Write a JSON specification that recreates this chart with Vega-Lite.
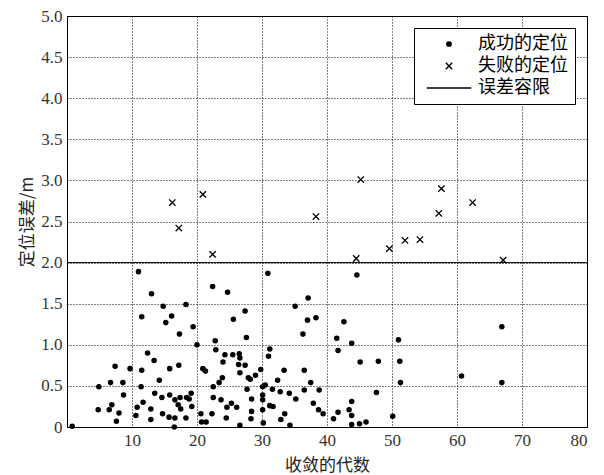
{
  "$schema": "https://vega.github.io/schema/vega-lite/v6.json",
  "width": 520,
  "height": 411,
  "autosize": {"type": "none"},
  "padding": {"left": 67, "top": 16, "right": 17, "bottom": 48},
  "background": "white",
  "config": {
    "view": {"stroke": "black", "strokeWidth": 1},
    "axis": {
      "domainColor": "black",
      "ticks": false,
      "grid": true,
      "gridColor": "black",
      "gridDash": [1, 2],
      "gridWidth": 1,
      "gridOpacity": 1,
      "labelFont": "Liberation Serif",
      "labelFontSize": 17,
      "labelColor": "#333",
      "titleFont": "Noto Sans CJK SC",
      "titleFontSize": 17,
      "titleFontWeight": "normal",
      "titleColor": "#222"
    },
    "legend": {
      "labelFont": "Noto Sans CJK SC",
      "labelFontSize": 18,
      "labelColor": "black",
      "strokeColor": "black",
      "fillColor": "white"
    }
  },
  "layer": [
    {
      "data": {"values": [{"err": 2.0}]},
      "mark": {"type": "rule", "color": "black", "strokeWidth": 1},
      "encoding": {
        "y": {"field": "err", "type": "quantitative", "scale": {"domain": [0, 5]}}
      }
    },
    {
      "data": {
        "values": [
          {"gen": 0.8, "err": 0.01, "type": "成功的定位"},
          {"gen": 11.0, "err": 1.89, "type": "成功的定位"},
          {"gen": 13.0, "err": 1.62, "type": "成功的定位"},
          {"gen": 11.5, "err": 1.34, "type": "成功的定位"},
          {"gen": 14.8, "err": 1.47, "type": "成功的定位"},
          {"gen": 18.3, "err": 1.49, "type": "成功的定位"},
          {"gen": 15.2, "err": 1.27, "type": "成功的定位"},
          {"gen": 16.1, "err": 1.35, "type": "成功的定位"},
          {"gen": 17.3, "err": 1.13, "type": "成功的定位"},
          {"gen": 19.4, "err": 1.22, "type": "成功的定位"},
          {"gen": 22.4, "err": 1.71, "type": "成功的定位"},
          {"gen": 24.7, "err": 1.64, "type": "成功的定位"},
          {"gen": 25.6, "err": 1.31, "type": "成功的定位"},
          {"gen": 27.4, "err": 1.41, "type": "成功的定位"},
          {"gen": 27.6, "err": 1.09, "type": "成功的定位"},
          {"gen": 30.9, "err": 1.87, "type": "成功的定位"},
          {"gen": 35.1, "err": 1.47, "type": "成功的定位"},
          {"gen": 37.1, "err": 1.57, "type": "成功的定位"},
          {"gen": 37.0, "err": 1.30, "type": "成功的定位"},
          {"gen": 38.3, "err": 1.33, "type": "成功的定位"},
          {"gen": 36.3, "err": 1.13, "type": "成功的定位"},
          {"gen": 22.8, "err": 1.05, "type": "成功的定位"},
          {"gen": 20.0, "err": 1.00, "type": "成功的定位"},
          {"gen": 44.6, "err": 1.85, "type": "成功的定位"},
          {"gen": 42.6, "err": 1.28, "type": "成功的定位"},
          {"gen": 41.5, "err": 1.08, "type": "成功的定位"},
          {"gen": 43.8, "err": 1.02, "type": "成功的定位"},
          {"gen": 51.0, "err": 1.06, "type": "成功的定位"},
          {"gen": 66.9, "err": 1.22, "type": "成功的定位"},
          {"gen": 22.9, "err": 0.94, "type": "成功的定位"},
          {"gen": 24.3, "err": 0.88, "type": "成功的定位"},
          {"gen": 25.5, "err": 0.88, "type": "成功的定位"},
          {"gen": 26.5, "err": 0.89, "type": "成功的定位"},
          {"gen": 26.6, "err": 0.84, "type": "成功的定位"},
          {"gen": 31.2, "err": 0.95, "type": "成功的定位"},
          {"gen": 31.0, "err": 0.86, "type": "成功的定位"},
          {"gen": 24.0, "err": 0.79, "type": "成功的定位"},
          {"gen": 20.9, "err": 0.71, "type": "成功的定位"},
          {"gen": 21.3, "err": 0.68, "type": "成功的定位"},
          {"gen": 26.4, "err": 0.76, "type": "成功的定位"},
          {"gen": 27.4, "err": 0.75, "type": "成功的定位"},
          {"gen": 26.6, "err": 0.66, "type": "成功的定位"},
          {"gen": 27.9, "err": 0.60, "type": "成功的定位"},
          {"gen": 28.2, "err": 0.58, "type": "成功的定位"},
          {"gen": 29.0, "err": 0.63, "type": "成功的定位"},
          {"gen": 29.8, "err": 0.70, "type": "成功的定位"},
          {"gen": 23.9, "err": 0.60, "type": "成功的定位"},
          {"gen": 23.4, "err": 0.54, "type": "成功的定位"},
          {"gen": 22.5, "err": 0.49, "type": "成功的定位"},
          {"gen": 33.4, "err": 0.69, "type": "成功的定位"},
          {"gen": 36.5, "err": 0.69, "type": "成功的定位"},
          {"gen": 32.4, "err": 0.57, "type": "成功的定位"},
          {"gen": 37.5, "err": 0.54, "type": "成功的定位"},
          {"gen": 30.5, "err": 0.51, "type": "成功的定位"},
          {"gen": 30.1, "err": 0.49, "type": "成功的定位"},
          {"gen": 12.4, "err": 0.90, "type": "成功的定位"},
          {"gen": 13.4, "err": 0.81, "type": "成功的定位"},
          {"gen": 7.4, "err": 0.74, "type": "成功的定位"},
          {"gen": 9.7, "err": 0.71, "type": "成功的定位"},
          {"gen": 11.5, "err": 0.69, "type": "成功的定位"},
          {"gen": 15.8, "err": 0.71, "type": "成功的定位"},
          {"gen": 17.2, "err": 0.75, "type": "成功的定位"},
          {"gen": 14.2, "err": 0.57, "type": "成功的定位"},
          {"gen": 4.9, "err": 0.49, "type": "成功的定位"},
          {"gen": 6.7, "err": 0.54, "type": "成功的定位"},
          {"gen": 8.6, "err": 0.54, "type": "成功的定位"},
          {"gen": 11.4, "err": 0.49, "type": "成功的定位"},
          {"gen": 41.7, "err": 0.93, "type": "成功的定位"},
          {"gen": 45.1, "err": 0.79, "type": "成功的定位"},
          {"gen": 47.9, "err": 0.80, "type": "成功的定位"},
          {"gen": 51.2, "err": 0.80, "type": "成功的定位"},
          {"gen": 51.3, "err": 0.54, "type": "成功的定位"},
          {"gen": 60.7, "err": 0.62, "type": "成功的定位"},
          {"gen": 66.9, "err": 0.54, "type": "成功的定位"},
          {"gen": 8.7, "err": 0.39, "type": "成功的定位"},
          {"gen": 13.5, "err": 0.41, "type": "成功的定位"},
          {"gen": 14.6, "err": 0.36, "type": "成功的定位"},
          {"gen": 15.8, "err": 0.39, "type": "成功的定位"},
          {"gen": 16.6, "err": 0.33, "type": "成功的定位"},
          {"gen": 17.4, "err": 0.36, "type": "成功的定位"},
          {"gen": 18.4, "err": 0.36, "type": "成功的定位"},
          {"gen": 19.1, "err": 0.41, "type": "成功的定位"},
          {"gen": 6.9, "err": 0.27, "type": "成功的定位"},
          {"gen": 4.8, "err": 0.21, "type": "成功的定位"},
          {"gen": 6.5, "err": 0.21, "type": "成功的定位"},
          {"gen": 8.0, "err": 0.17, "type": "成功的定位"},
          {"gen": 7.6, "err": 0.07, "type": "成功的定位"},
          {"gen": 10.8, "err": 0.24, "type": "成功的定位"},
          {"gen": 10.6, "err": 0.14, "type": "成功的定位"},
          {"gen": 11.7, "err": 0.30, "type": "成功的定位"},
          {"gen": 12.9, "err": 0.22, "type": "成功的定位"},
          {"gen": 12.9, "err": 0.09, "type": "成功的定位"},
          {"gen": 14.7, "err": 0.16, "type": "成功的定位"},
          {"gen": 15.7, "err": 0.12, "type": "成功的定位"},
          {"gen": 16.6, "err": 0.11, "type": "成功的定位"},
          {"gen": 16.5, "err": 0.0, "type": "成功的定位"},
          {"gen": 17.1, "err": 0.27, "type": "成功的定位"},
          {"gen": 17.5, "err": 0.22, "type": "成功的定位"},
          {"gen": 18.3, "err": 0.11, "type": "成功的定位"},
          {"gen": 18.8, "err": 0.34, "type": "成功的定位"},
          {"gen": 19.2, "err": 0.25, "type": "成功的定位"},
          {"gen": 22.5, "err": 0.36, "type": "成功的定位"},
          {"gen": 23.7, "err": 0.33, "type": "成功的定位"},
          {"gen": 28.4, "err": 0.34, "type": "成功的定位"},
          {"gen": 30.1, "err": 0.39, "type": "成功的定位"},
          {"gen": 30.1, "err": 0.33, "type": "成功的定位"},
          {"gen": 35.2, "err": 0.34, "type": "成功的定位"},
          {"gen": 37.9, "err": 0.29, "type": "成功的定位"},
          {"gen": 25.3, "err": 0.29, "type": "成功的定位"},
          {"gen": 24.6, "err": 0.24, "type": "成功的定位"},
          {"gen": 26.1, "err": 0.24, "type": "成功的定位"},
          {"gen": 31.2, "err": 0.26, "type": "成功的定位"},
          {"gen": 31.7, "err": 0.25, "type": "成功的定位"},
          {"gen": 28.4, "err": 0.19, "type": "成功的定位"},
          {"gen": 30.1, "err": 0.21, "type": "成功的定位"},
          {"gen": 38.7, "err": 0.21, "type": "成功的定位"},
          {"gen": 39.4, "err": 0.16, "type": "成功的定位"},
          {"gen": 33.5, "err": 0.16, "type": "成功的定位"},
          {"gen": 20.6, "err": 0.16, "type": "成功的定位"},
          {"gen": 22.3, "err": 0.16, "type": "成功的定位"},
          {"gen": 24.5, "err": 0.11, "type": "成功的定位"},
          {"gen": 28.3, "err": 0.10, "type": "成功的定位"},
          {"gen": 32.9, "err": 0.09, "type": "成功的定位"},
          {"gen": 20.7, "err": 0.06, "type": "成功的定位"},
          {"gen": 21.4, "err": 0.06, "type": "成功的定位"},
          {"gen": 26.6, "err": 0.02, "type": "成功的定位"},
          {"gen": 30.2, "err": 0.05, "type": "成功的定位"},
          {"gen": 34.3, "err": 0.02, "type": "成功的定位"},
          {"gen": 27.7, "err": 0.46, "type": "成功的定位"},
          {"gen": 31.6, "err": 0.46, "type": "成功的定位"},
          {"gen": 32.8, "err": 0.43, "type": "成功的定位"},
          {"gen": 34.2, "err": 0.41, "type": "成功的定位"},
          {"gen": 36.5, "err": 0.45, "type": "成功的定位"},
          {"gen": 38.8, "err": 0.45, "type": "成功的定位"},
          {"gen": 43.8, "err": 0.31, "type": "成功的定位"},
          {"gen": 43.4, "err": 0.21, "type": "成功的定位"},
          {"gen": 43.8, "err": 0.14, "type": "成功的定位"},
          {"gen": 41.7, "err": 0.18, "type": "成功的定位"},
          {"gen": 41.0, "err": 0.10, "type": "成功的定位"},
          {"gen": 43.8, "err": 0.03, "type": "成功的定位"},
          {"gen": 45.0, "err": 0.04, "type": "成功的定位"},
          {"gen": 46.0, "err": 0.06, "type": "成功的定位"},
          {"gen": 47.6, "err": 0.42, "type": "成功的定位"},
          {"gen": 50.1, "err": 0.13, "type": "成功的定位"},
          {"gen": 16.2, "err": 2.73, "type": "失败的定位"},
          {"gen": 17.2, "err": 2.42, "type": "失败的定位"},
          {"gen": 20.9, "err": 2.83, "type": "失败的定位"},
          {"gen": 22.4, "err": 2.10, "type": "失败的定位"},
          {"gen": 38.3, "err": 2.56, "type": "失败的定位"},
          {"gen": 44.5, "err": 2.05, "type": "失败的定位"},
          {"gen": 45.2, "err": 3.01, "type": "失败的定位"},
          {"gen": 49.6, "err": 2.17, "type": "失败的定位"},
          {"gen": 52.0, "err": 2.27, "type": "失败的定位"},
          {"gen": 54.3, "err": 2.28, "type": "失败的定位"},
          {"gen": 57.2, "err": 2.60, "type": "失败的定位"},
          {"gen": 57.6, "err": 2.90, "type": "失败的定位"},
          {"gen": 62.4, "err": 2.73, "type": "失败的定位"},
          {"gen": 67.1, "err": 2.03, "type": "失败的定位"}
        ]
      },
      "mark": {"type": "point", "filled": true, "fill": "black", "stroke": "black", "strokeWidth": 1.3, "opacity": 1, "size": 18},
      "encoding": {
        "x": {
          "field": "gen", "type": "quantitative",
          "scale": {"domain": [0, 80], "nice": false},
          "axis": {"values": [10, 20, 30, 40, 50, 60, 70, 80], "title": "收敛的代数", "labelPadding": 5, "titlePadding": 9}
        },
        "y": {
          "field": "err", "type": "quantitative",
          "scale": {"domain": [0, 5], "nice": false},
          "axis": {
            "values": [0, 0.5, 1, 1.5, 2, 2.5, 3, 3.5, 4, 4.5, 5],
            "labelExpr": "datum.value == 0 ? '0' : format(datum.value, '.1f')",
            "title": "定位误差/m",
            "labelPadding": 5,
            "titlePadding": 4
          }
        },
        "shape": {
          "field": "type", "type": "nominal",
          "scale": {
            "domain": ["成功的定位", "失败的定位", "误差容限"],
            "range": ["circle", "M-1.5,-1.5L1.5,1.5M-1.5,1.5L1.5,-1.5", "M-10.5,0L10.5,0"]
          },
          "legend": {
            "title": null,
            "orient": "top-right",
            "offset": 12,
            "padding": 7,
            "rowPadding": 4,
            "symbolSize": 18,
            "symbolOffset": 19,
            "labelOffset": 20,
            "encode": {
              "symbols": {
                "fill": {"value": "black"},
                "stroke": {"value": "black"},
                "strokeWidth": {"value": 1.3}
              }
            }
          }
        }
      }
    }
  ]
}
